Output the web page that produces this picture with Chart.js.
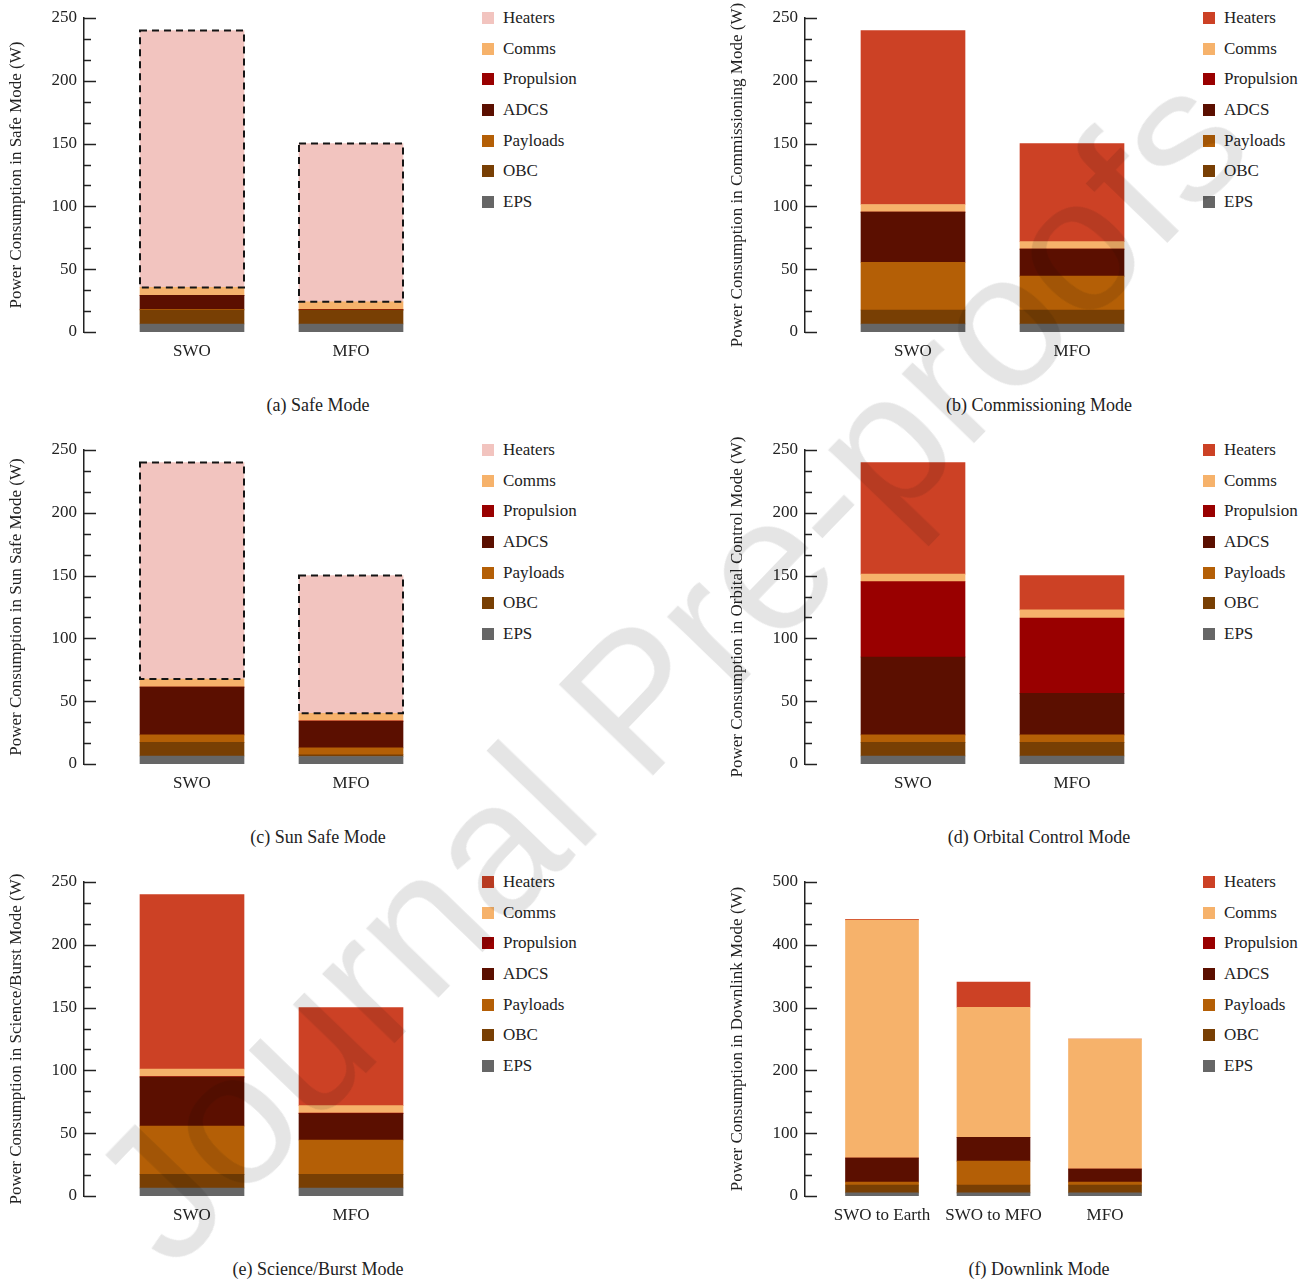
<!DOCTYPE html>
<html>
<head>
<meta charset="utf-8">
<script src="https://cdn.jsdelivr.net/npm/chart.js@4.4.1/dist/chart.umd.min.js"></script>
<style>
  body { margin: 0; background: #fff; width: 1309px; height: 1282px; position: relative; overflow: hidden;
         font-family: "Liberation Serif", "Times New Roman", serif; color: #222; }
  .panel { position: absolute; width: 470px; height: 370px; }
  .caption { position: absolute; width: 400px; text-align: center; font-size: 18px; line-height: 22px; }
  .legend { position: absolute; list-style: none; margin: 0; padding: 0; font-size: 17px; }
  .legend li { height: 30.7px; display: flex; align-items: center; }
  .legend .box { width: 12px; height: 12px; margin-right: 9px; display: inline-block; }
  .watermark { position: absolute; left: 668px; top: 665px; transform: translate(-50%, -50%) rotate(-46deg);
               font-family: "Liberation Sans", Arial, sans-serif; font-size: 190px; white-space: nowrap;
               color: rgba(0, 0, 0, 0.1); pointer-events: none; }
</style>
</head>
<body>

<script>
// series, bottom to top
const seriesNames = ['EPS', 'OBC', 'Payloads', 'ADCS', 'Propulsion', 'Comms', 'Heaters'];
const seriesColors = ['#666666', '#783f04', '#b45f06', '#5b0f00', '#990000', '#f6b26b', '#cc4125'];
const heatersPale = '#f2c4bf';

const modeCategories = ['SWO', 'MFO'];
const downlinkCategories = ['SWO to Earth', 'SWO to MFO', 'MFO'];

const yTicks250 = [0, 50, 100, 150, 200, 250];
const yTicks500 = [0, 100, 200, 300, 400, 500];

// values per category, same order as seriesNames (W)
const safeSWO = [6.4, 11.1, 0.5, 11.2, 0, 6.3, 204.5];
const safeMFO = [6.4, 11.1, 0, 0, 0.5, 6, 126];

const commissioningSWO = [6.4, 11.1, 38, 40, 0, 6, 138.5];
const commissioningMFO = [6.4, 11.1, 27, 21.5, 0, 6, 78];

const sunSafeSWO = [6.4, 10.8, 6, 38, 0, 6.5, 172.3];
const sunSafeMFO = [6, 1.4, 5.5, 21, 0.5, 6, 109.6];

const orbitalSWO = [6.4, 10.8, 6, 62, 60, 6, 88.8];
const orbitalMFO = [6.4, 10.8, 6, 33, 60, 6.5, 27.3];

const scienceSWO = [6.4, 10.8, 38.5, 39, 0.4, 6, 138.9];
const scienceMFO = [6.4, 10.8, 27.4, 21, 0.4, 6, 78];

const downlinkSWOEarth = [5, 12.5, 4.5, 38.5, 0, 379, 1];
const downlinkSWOMFO = [5, 12.5, 38, 38, 0, 207, 40];
const downlinkMFO = [5, 12.5, 4.5, 21, 0, 207, 0];

const font = { family: '"Liberation Serif", "Times New Roman", serif', size: 17 };

const innerTicks = {
  id: 'innerTicks',
  afterDraw(chart) {
    const s = chart.scales.y;
    const ctx = chart.ctx;
    ctx.save();
    ctx.strokeStyle = '#222';
    ctx.lineWidth = 1.5;
    s.ticks.forEach(t => {
      const yy = Math.round(s.getPixelForValue(t.value)) + 0.5;
      const len = t.label !== '' ? 12 : 7;
      ctx.beginPath();
      ctx.moveTo(s.right, yy);
      ctx.lineTo(s.right + len, yy);
      ctx.stroke();
    });
    ctx.restore();
  }
};

const dashedHeaters = {
  id: 'dashedHeaters',
  afterDatasetsDraw(chart, args, opts) {
    if (!opts.enabled) return;
    const meta = chart.getDatasetMeta(chart.data.datasets.length - 1);
    const ctx = chart.ctx;
    ctx.save();
    ctx.setLineDash([7, 5]);
    ctx.lineWidth = 2;
    ctx.strokeStyle = '#151515';
    meta.data.forEach(bar => {
      const { x, y, base, width } = bar.getProps(['x', 'y', 'base', 'width'], true);
      ctx.strokeRect(x - width / 2, y, width, base - y);
    });
    ctx.restore();
  }
};

function makePanel(left, top, categories, stacks, yTicks, title, caption, pale, pxPerUnit, firstCenter, barW) {
  const canvas = document.createElement('canvas');
  canvas.className = 'panel';
  canvas.width = 470; canvas.height = 370;
  canvas.style.left = left + 'px'; canvas.style.top = top + 'px';
  document.body.appendChild(canvas);

  const colors = seriesColors.slice();
  if (pale) colors[6] = heatersPale;

  const datasets = seriesNames.map((name, i) => ({
    label: name,
    data: categories.map((c, j) => ({ x: j + 1, y: stacks[j][i] })),
    backgroundColor: colors[i],
    borderWidth: 0,
    barThickness: barW
  }));

  const xMin = 1 - (firstCenter - 84) / pxPerUnit;
  const xMax = xMin + (470 - 84) / pxPerUnit;
  const yMax = yTicks[yTicks.length - 1];

  new Chart(canvas, {
    type: 'bar',
    data: { datasets },
    options: {
      responsive: false,
      animation: false,
      layout: { padding: { top: 18, left: 0, right: 0, bottom: 0 } },
      plugins: {
        legend: { display: false },
        tooltip: { enabled: false },
        dashedHeaters: { enabled: pale }
      },
      scales: {
        x: {
          type: 'linear', stacked: true, offset: false, min: xMin, max: xMax,
          grid: { display: false }, border: { display: false },
          afterBuildTicks: s => { s.ticks = categories.map((c, i) => ({ value: i + 1 })); },
          ticks: { callback: v => categories[v - 1], font, color: '#222', padding: 1, maxRotation: 0, autoSkip: false },
          afterFit: s => { s.height = 38; }
        },
        y: {
          stacked: true, min: 0, max: yMax,
          afterBuildTicks: s => {
            const t = [];
            for (let k = 0; k < yTicks.length - 1; k++) {
              const a = yTicks[k], b = yTicks[k + 1];
              t.push({ value: a }, { value: a + (b - a) / 3 }, { value: a + 2 * (b - a) / 3 });
            }
            t.push({ value: yMax });
            s.ticks = t;
          },
          ticks: { callback: v => (yTicks.includes(v) ? String(v) : ''), font, color: '#222', padding: 7, autoSkip: false },
          grid: { display: false, drawTicks: false },
          border: { display: true, color: '#222', width: 1.5 },
          title: { display: true, text: title, font, color: '#222', padding: { top: 6, bottom: 0 } },
          afterFit: s => { s.width = 84; }
        }
      }
    },
    plugins: [innerTicks, dashedHeaters]
  });

  // legend, top entry first
  const ul = document.createElement('ul');
  ul.className = 'legend';
  ul.style.left = (left + 482) + 'px';
  ul.style.top = (top + 2.6) + 'px';
  for (let i = seriesNames.length - 1; i >= 0; i--) {
    const li = document.createElement('li');
    li.innerHTML = '<span class="box" style="background:' + colors[i] + '"></span>' + seriesNames[i];
    ul.appendChild(li);
  }
  document.body.appendChild(ul);

  const cap = document.createElement('div');
  cap.className = 'caption';
  cap.style.left = (left + 118) + 'px';
  cap.style.top = (top + 394) + 'px';
  cap.textContent = caption;
  document.body.appendChild(cap);
}

makePanel(0, 0, modeCategories, [safeSWO, safeMFO], yTicks250,
  'Power Consumption in Safe Mode (W)', '(a) Safe Mode', true, 159, 192, 104);
makePanel(721, 0, modeCategories, [commissioningSWO, commissioningMFO], yTicks250,
  'Power Consumption in Commissioning Mode (W)', '(b) Commissioning Mode', false, 159, 192, 104);
makePanel(0, 432, modeCategories, [sunSafeSWO, sunSafeMFO], yTicks250,
  'Power Consumption in Sun Safe Mode (W)', '(c) Sun Safe Mode', true, 159, 192, 104);
makePanel(721, 432, modeCategories, [orbitalSWO, orbitalMFO], yTicks250,
  'Power Consumption in Orbital Control Mode (W)', '(d) Orbital Control Mode', false, 159, 192, 104);
makePanel(0, 864, modeCategories, [scienceSWO, scienceMFO], yTicks250,
  'Power Consumption in Science/Burst Mode (W)', '(e) Science/Burst Mode', false, 159, 192, 104);
makePanel(721, 864, downlinkCategories, [downlinkSWOEarth, downlinkSWOMFO, downlinkMFO], yTicks500,
  'Power Consumption in Downlink Mode (W)', '(f) Downlink Mode', false, 111.5, 161, 73);

const wm = document.createElement('div');
wm.className = 'watermark';
wm.textContent = 'Journal Pre-proofs';
document.body.appendChild(wm);
</script>
</body>
</html>
